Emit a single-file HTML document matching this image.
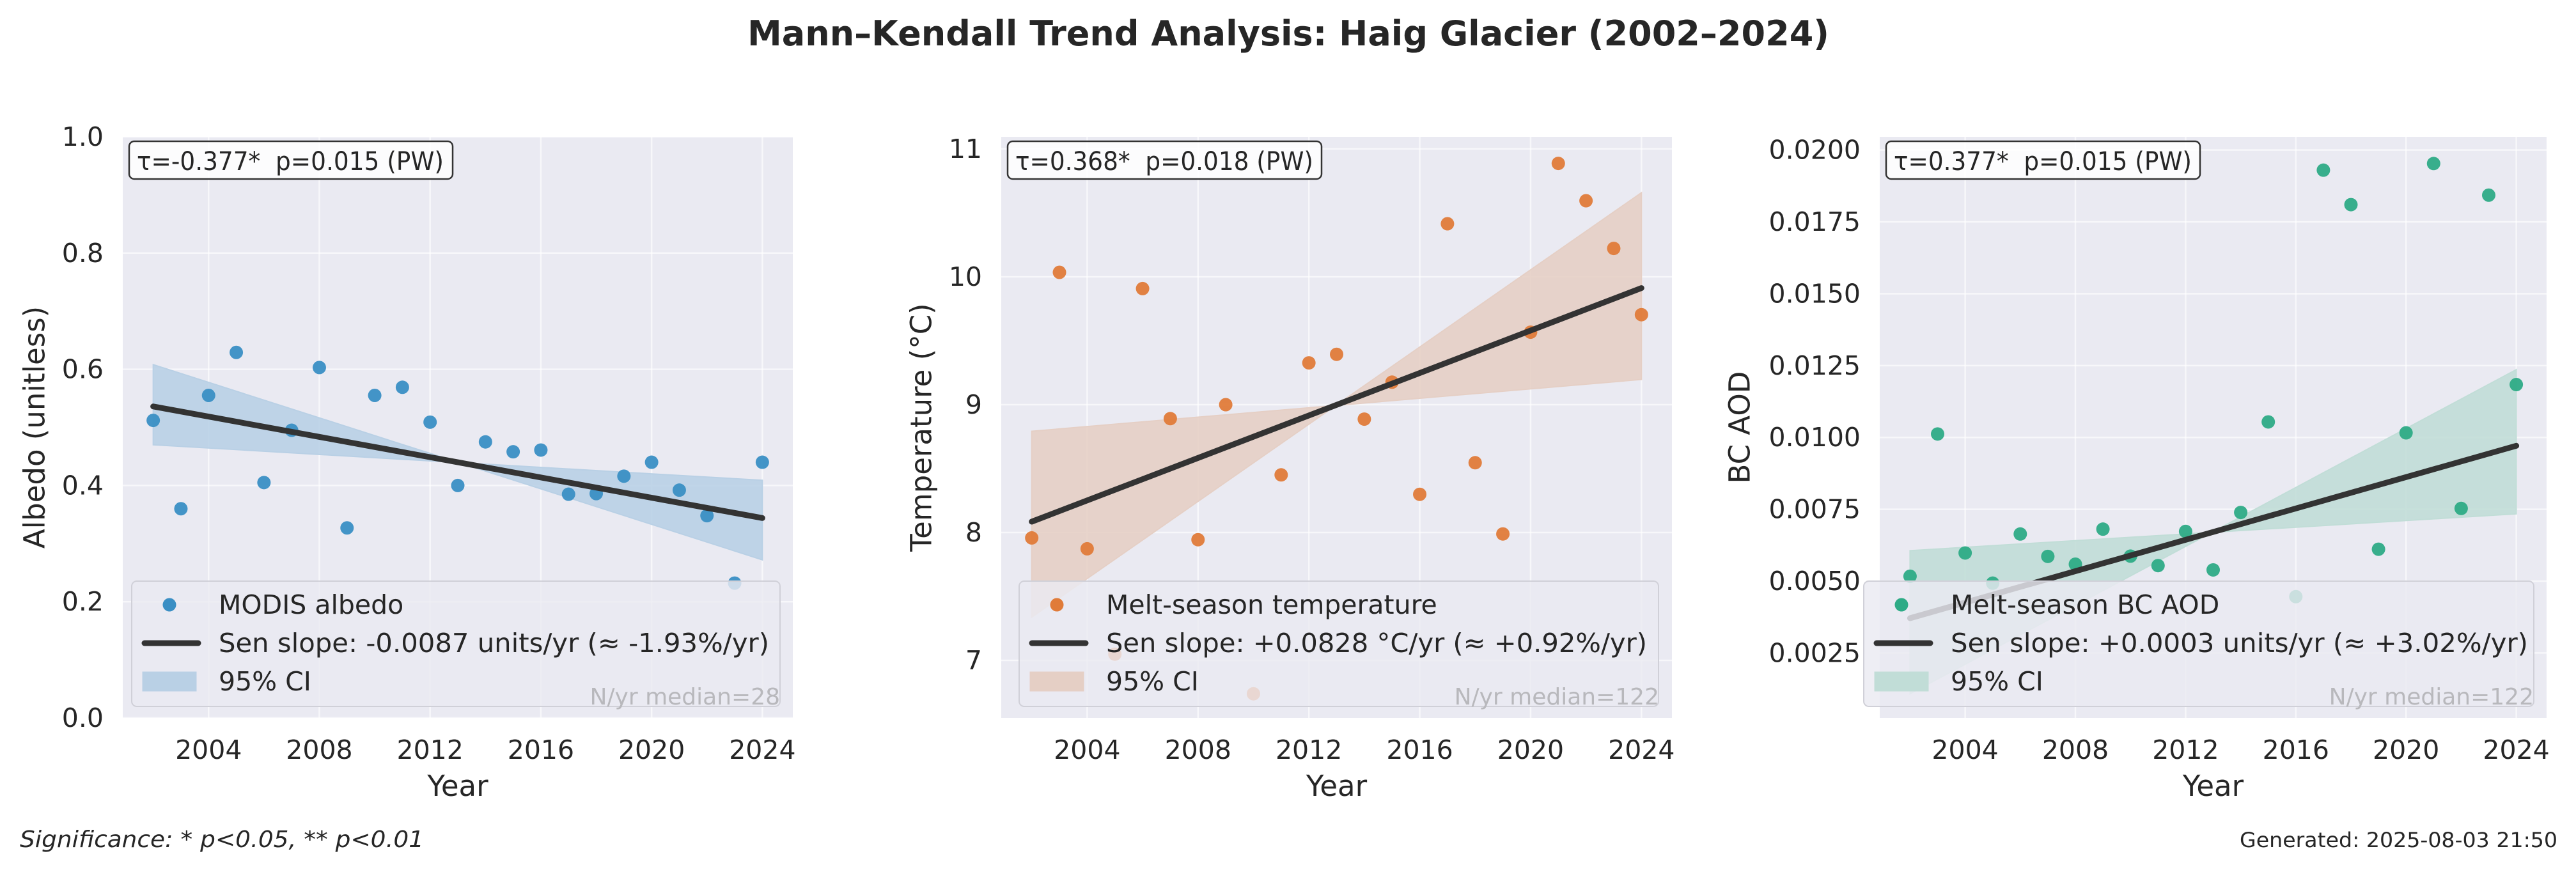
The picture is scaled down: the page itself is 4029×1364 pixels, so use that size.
<!DOCTYPE html>
<html><head><meta charset="utf-8">
<style>
html,body{margin:0;padding:0;background:#fff;}
svg{display:block;font-family:"DejaVu Sans","Liberation Sans",sans-serif;}
</style></head>
<body>
<svg id="fig" xmlns="http://www.w3.org/2000/svg" width="4029" height="1364" viewBox="0 0 4029 1364">
<rect width="4029" height="1364" fill="#ffffff"/>
<text x="2015" y="71" text-anchor="middle" font-size="54" font-weight="bold" fill="#262626" textLength="1692" lengthAdjust="spacingAndGlyphs">Mann–Kendall Trend Analysis: Haig Glacier (2002–2024)</text>
<text x="31" y="1325" font-size="36" font-style="italic" fill="#262626" textLength="632" lengthAdjust="spacingAndGlyphs">Significance: * p&lt;0.05, ** p&lt;0.01</text>
<text x="4000" y="1325" text-anchor="end" font-size="32" fill="#262626" textLength="497" lengthAdjust="spacingAndGlyphs">Generated: 2025-08-03 21:50</text>
<g id="panels"></g>
</svg>
<script>
const years = [2002,2003,2004,2005,2006,2007,2008,2009,2010,2011,2012,2013,2014,2015,2016,2017,2018,2019,2020,2021,2022,2023,2024];
const albedoValues = [0.512,0.360,0.555,0.629,0.405,0.495,0.603,0.327,0.555,0.569,0.509,0.400,0.475,0.458,0.461,0.385,0.386,0.416,0.440,0.392,0.348,0.232,0.440];
const tempValues = [7.958,10.035,7.873,7.049,9.908,8.891,7.944,9.0,6.739,8.451,9.327,9.394,8.887,9.176,8.299,10.415,8.546,7.989,9.567,10.887,10.595,10.222,9.704];
const bcValues = [0.00517,0.01012,0.00598,0.00493,0.00664,0.00586,0.00559,0.00681,0.00587,0.00554,0.00673,0.00539,0.00739,0.01054,0.00446,0.01930,0.01810,0.00611,0.01016,0.01953,0.00753,0.01843,0.01184];
const albedoSen = [0.536,0.344];
const tempSen = [8.085,9.912];
const bcSen = [0.00371,0.00971];
const albedoCiA = [0.608,0.272];
const albedoCiB = [0.470,0.409];
const tempCiA = [7.338,10.658];
const tempCiB = [8.792,9.197];
const bcCiA = [0.00108,0.01236];
const bcCiB = [0.00606,0.00734];
const xTicks = [2004,2008,2012,2016,2020,2024];
const albedoTicks = [0.0,0.2,0.4,0.6,0.8,1.0];
const albedoTickLabels = ["0.0","0.2","0.4","0.6","0.8","1.0"];
const tempTicks = [7,8,9,10,11];
const tempTickLabels = ["7","8","9","10","11"];
const bcTicks = [0.0025,0.005,0.0075,0.01,0.0125,0.015,0.0175,0.02];
const bcTickLabels = ["0.0025","0.0050","0.0075","0.0100","0.0125","0.0150","0.0175","0.0200"];

const NS = "http://www.w3.org/2000/svg";
const root = document.getElementById('panels');
function mk(tag, attrs, parent){
  const e = document.createElementNS(NS, tag);
  for (const k in attrs) e.setAttribute(k, attrs[k]);
  (parent||root).appendChild(e);
  return e;
}

const panels = [
  {key:'albedo', x0:192, x1:1240, ymin:0, ymax:1.0, vals:albedoValues, sen:albedoSen, ciA:albedoCiA, ciB:albedoCiB,
   ticks:albedoTicks, tickLabels:albedoTickLabels, color:'#3a8fc4', ci:'#b9d0e5', ylabel:'Albedo (unitless)', ylabelX:54,
   annot:'τ=-0.377*\u00a0\u00a0p=0.015 (PW)', annotW:506, annotT:480, legX:206, legW:1014,
   leg1:'MODIS albedo', leg2:'Sen slope: -0.0087 units/yr (≈ -1.93%/yr)', leg2W:861, nyr:'N/yr median=28'},
  {key:'temperature', x0:1566, x1:2615, ymin:6.55, ymax:11.095, vals:tempValues, sen:tempSen, ciA:tempCiA, ciB:tempCiB,
   ticks:tempTicks, tickLabels:tempTickLabels, color:'#e07b39', ci:'#e5cfc5', ylabel:'Temperature (°C)', ylabelX:1441,
   annot:'τ=0.368*\u00a0\u00a0p=0.018 (PW)', annotW:491, annotT:466, legX:1594, legW:1000,
   leg1:'Melt-season temperature', leg2:'Sen slope: +0.0828 °C/yr (≈ +0.92%/yr)', leg2W:846, nyr:'N/yr median=122'},
  {key:'bc-aod', x0:2940, x1:3983, ymin:0.00024, ymax:0.02046, vals:bcValues, sen:bcSen, ciA:bcCiA, ciB:bcCiB,
   ticks:bcTicks, tickLabels:bcTickLabels, color:'#2eab86', ci:'#c1ddd7', ylabel:'BC AOD', ylabelX:2721,
   annot:'τ=0.377*\u00a0\u00a0p=0.015 (PW)', annotW:491, annotT:466, legX:2915, legW:1048,
   leg1:'Melt-season BC AOD', leg2:'Sen slope: +0.0003 units/yr (≈ +3.02%/yr)', leg2W:903, nyr:'N/yr median=122'}
];
const yTop = 214, yBot = 1123, XMIN = 2000.9, XMAX = 2025.1;

panels.forEach(p => {
  const g = mk('g', {});
  
  
  const xs = v => p.x0 + (v - XMIN) / (XMAX - XMIN) * (p.x1 - p.x0);
  const ys = v => yBot - (v - p.ymin) / (p.ymax - p.ymin) * (yBot - yTop);

  const bg = mk('rect', {x:p.x0, y:yTop, width:p.x1-p.x0, height:yBot-yTop, fill:'#eaeaf2'}, g);
  
  

  p.ticks.forEach((t,i) => {
    const y = ys(t);
    const gl = mk('line', {x1:p.x0, x2:p.x1, y1:y, y2:y, stroke:'#ffffff', 'stroke-width':2.5, 'stroke-opacity':0.6}, g);
    
    
    const tl = mk('text', {x:p.x0-30, y:y+14, 'text-anchor':'end', 'font-size':41, fill:'#262626'}, g);
    tl.textContent = p.tickLabels[i];
    
    
  });
  xTicks.forEach(t => {
    const x = xs(t);
    const gl = mk('line', {x1:x, x2:x, y1:yTop, y2:yBot, stroke:'#ffffff', 'stroke-width':2.5, 'stroke-opacity':0.6}, g);
    
    
    const tl = mk('text', {x:x, y:1187, 'text-anchor':'middle', 'font-size':41, fill:'#262626'}, g);
    tl.textContent = String(t);
    
    
  });

  const xa = mk('text', {x:(p.x0+p.x1)/2, y:1245, 'text-anchor':'middle', 'font-size':45, fill:'#262626'}, g);
  xa.textContent = 'Year';
  
  
  const yc = (yTop+yBot)/2;
  const ya = mk('text', {x:p.ylabelX, y:yc, 'text-anchor':'middle', 'dominant-baseline':'central', 'font-size':45, fill:'#262626', transform:`rotate(-90 ${p.ylabelX} ${yc})`}, g);
  ya.textContent = p.ylabel;
  
  

  const xa0 = xs(years[0]), xa1 = xs(years[years.length-1]);
  const ci = mk('polygon', {points:`${xa0},${ys(p.ciA[0])} ${xa1},${ys(p.ciA[1])} ${xa1},${ys(p.ciB[1])} ${xa0},${ys(p.ciB[0])}`, fill:p.ci, 'fill-opacity':0.9, stroke:p.ci, 'stroke-width':2}, g);
  
  

  p.vals.forEach((v,i) => {
    const c = mk('circle', {cx:xs(years[i]), cy:ys(v), r:10.5, fill:p.color, 'fill-opacity':0.95}, g);
    
    
  });

  const sl = mk('line', {x1:xa0, y1:ys(p.sen[0]), x2:xa1, y2:ys(p.sen[1]), stroke:'#333333', 'stroke-width':9, 'stroke-linecap':'round'}, g);
  
  

  const ab = mk('rect', {x:p.x0+10, y:221, width:p.annotW, height:59, rx:8, fill:'#ffffff', 'fill-opacity':0.85, stroke:'#333333', 'stroke-width':2.5}, g);
  
  
  const at = mk('text', {x:p.x0+22, y:266, 'font-size':40, fill:'#262626', textLength:p.annotT, lengthAdjust:'spacingAndGlyphs'}, g);
  at.textContent = p.annot;
  
  

  const lg = mk('g', {}, g);
  
  
  mk('rect', {x:p.legX, y:909, width:p.legW, height:196, rx:8, fill:'#eaeaf2', 'fill-opacity':0.82, stroke:'#d0d0d8', 'stroke-width':2}, lg);
  const L = p.legX;
  const m = mk('circle', {cx:L+59, cy:946, r:10.5, fill:p.color}, lg);
  
  
  const ll = mk('line', {x1:L+20, x2:L+104, y1:1006, y2:1006, stroke:'#333333', 'stroke-width':9, 'stroke-linecap':'round'}, lg);
  
  
  const lp = mk('rect', {x:L+17, y:1051, width:84, height:30, fill:p.ci, stroke:p.ci}, lg);
  
  
  const t1 = mk('text', {x:L+136, y:960, 'font-size':41, fill:'#262626'}, lg);
  t1.textContent = p.leg1;
  
  
  const t2 = mk('text', {x:L+136, y:1020, 'font-size':41, fill:'#262626', textLength:p.leg2W, lengthAdjust:'spacingAndGlyphs'}, lg);
  t2.textContent = p.leg2;
  
  
  const t3 = mk('text', {x:L+136, y:1080, 'font-size':41, fill:'#262626'}, lg);
  t3.textContent = '95% CI';
  
  

  const ny = mk('text', {x:p.x1-20, y:1102, 'text-anchor':'end', 'font-size':36, fill:'#b8b8bc'}, g);
  ny.textContent = p.nyr;
  
  
});
</script>
</body></html>
